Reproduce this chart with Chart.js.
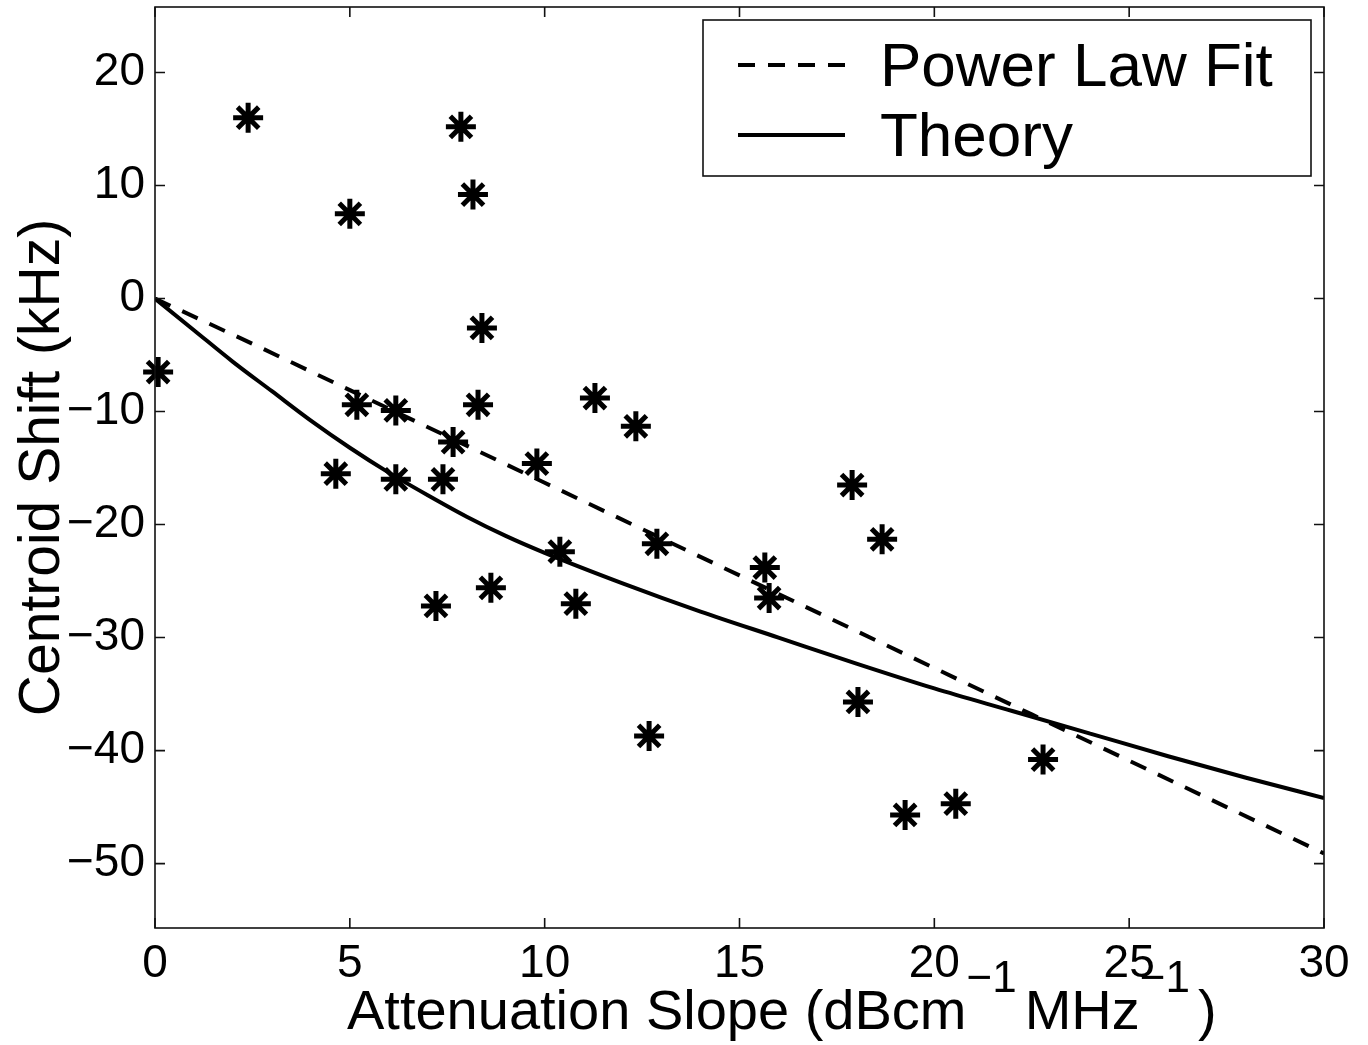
<!DOCTYPE html>
<html><head><meta charset="utf-8">
<script src="https://cdn.jsdelivr.net/npm/chart.js@4/dist/chart.umd.min.js"></script>
<style>html,body{margin:0;padding:0;background:#fff;} #wrap{width:1368px;height:1045px;}</style>
</head><body><div id="wrap"><canvas id="c" width="1368" height="1045"></canvas></div>
<script>
// ---- data ----
const xTicks = [0, 5, 10, 15, 20, 25, 30];
const yTicks = [-50, -40, -30, -20, -10, 0, 10, 20];
const xLimits = [0, 30];
const yLimits = [-55.7, 25.8];

const measX = [0.08, 2.39, 5.00, 7.85, 8.16, 8.39, 5.18, 6.18, 8.29, 7.65, 4.64, 6.18, 7.39, 9.80, 11.29,
               12.34, 10.39, 12.88, 7.21, 8.62, 10.80, 12.68, 15.65, 15.76, 17.89, 18.66, 18.04, 19.25, 20.55, 22.79];
const measY = [-6.5, 16.0, 7.5, 15.2, 9.2, -2.6, -9.4, -9.9, -9.4, -12.7, -15.5, -16.0, -16.0, -14.6, -8.8,
               -11.3, -22.4, -21.7, -27.2, -25.6, -27.0, -38.7, -23.8, -26.5, -16.5, -21.3, -35.7, -45.7, -44.7, -40.8];

const fitX = [0, 2.5, 5, 7.5, 10, 12.5, 15, 17.5, 20, 22.5, 25, 27.5, 30];
const fitY = [0, -4.0, -8.1, -12.2, -16.3, -20.4, -24.5, -28.6, -32.7, -36.8, -40.9, -45.0, -49.1];

const theoryX = [0, 1, 2, 3, 4, 5, 6, 7, 8, 9, 10, 12, 14, 16, 18, 20, 22, 24, 26, 28, 30];
const theoryY = [0, -2.8, -5.6, -8.2, -10.8, -13.2, -15.4, -17.4, -19.3, -21.0, -22.5, -25.2, -27.7, -30.0,
                 -32.3, -34.5, -36.5, -38.5, -40.5, -42.4, -44.2];

const seriesLabels = ['Measured', 'Power Law Fit', 'Theory'];
const xTitleParts = [['Attenuation Slope (dBcm', 0], ['\u22121', 1], ['MHz', 0], ['\u22121', 1], [')', 0]];
const yTitle = 'Centroid Shift (kHz)';

// ---- build ----
const FONT = '"Liberation Sans", Arial, Helvetica, sans-serif';
const zip = (xs, ys) => xs.map((x, i) => ({x: x, y: ys[i]}));
const noPad = s => { s.paddingTop = 0; s.paddingBottom = 0; s.paddingLeft = 0; s.paddingRight = 0; };

const framePlugin = {
  id: 'frame',
  afterDatasetsDraw(chart) {
    const ctx = chart.ctx, a = chart.chartArea;
    const sx = chart.scales.x, sy = chart.scales.y;
    ctx.save();
    ctx.strokeStyle = '#111';
    ctx.lineWidth = 1.6;
    ctx.strokeRect(a.left, a.top, a.right - a.left, a.bottom - a.top);
    const tl = 10;
    ctx.beginPath();
    xTicks.forEach(v => {
      const p = sx.getPixelForValue(v);
      ctx.moveTo(p, a.bottom); ctx.lineTo(p, a.bottom - tl);
      ctx.moveTo(p, a.top); ctx.lineTo(p, a.top + tl);
    });
    yTicks.forEach(v => {
      const p = sy.getPixelForValue(v);
      ctx.moveTo(a.left, p); ctx.lineTo(a.left + tl, p);
      ctx.moveTo(a.right, p); ctx.lineTo(a.right - tl, p);
    });
    ctx.stroke();
    ctx.restore();
  },
  afterDraw(chart) {
    const ctx = chart.ctx, a = chart.chartArea;
    ctx.save();
    ctx.fillStyle = '#000';
    // y title
    ctx.font = '57px ' + FONT;
    ctx.translate(59, (a.top + a.bottom) / 2);
    ctx.rotate(-Math.PI / 2);
    ctx.textAlign = 'center';
    ctx.textBaseline = 'alphabetic';
    ctx.fillText(yTitle, 0, 0);
    ctx.setTransform(1, 0, 0, 1, 0, 0);
    // x title with superscripts
    const mainF = '56px ' + FONT, supF = '44px ' + FONT;
    let x = 347;
    ctx.textAlign = 'left';
    xTitleParts.forEach(([t, s]) => {
      ctx.font = s ? supF : mainF;
      ctx.fillText(t, x, s ? 992 : 1029);
      x += ctx.measureText(t).width + (s ? 8 : 0);
    });
    // legend
    const bx = 703, by = 20, bw = 608, bh = 156;
    ctx.fillStyle = '#fff';
    ctx.fillRect(bx, by, bw, bh);
    ctx.strokeStyle = '#111';
    ctx.lineWidth = 1.6;
    ctx.strokeRect(bx, by, bw, bh);
    [1, 2].forEach((di, i) => {
      const ds = chart.data.datasets[di];
      const yy = 65 + i * 70;
      ctx.beginPath();
      ctx.strokeStyle = ds.borderColor;
      ctx.lineWidth = ds.borderWidth;
      ctx.setLineDash(ds.borderDash || []);
      ctx.moveTo(738, yy); ctx.lineTo(845, yy);
      ctx.stroke();
      ctx.setLineDash([]);
      ctx.fillStyle = '#000';
      ctx.font = '62px ' + FONT;
      ctx.textAlign = 'left';
      ctx.textBaseline = 'alphabetic';
      ctx.fillText(ds.label, 880, yy + 21);
    });
    ctx.restore();
  }
};

new Chart(document.getElementById('c'), {
  type: 'scatter',
  data: {
    datasets: [
      { label: seriesLabels[0], data: zip(measX, measY), showLine: false, pointStyle: 'star', clip: false,
        pointRadius: 15, pointHoverRadius: 15, pointBorderWidth: 5, borderColor: '#000', backgroundColor: '#000' },
      { label: seriesLabels[1], data: zip(fitX, fitY), showLine: true, borderColor: '#000', borderWidth: 4,
        borderDash: [17, 13], pointRadius: 0, fill: false, tension: 0 },
      { label: seriesLabels[2], data: zip(theoryX, theoryY), showLine: true, borderColor: '#000', borderWidth: 4,
        pointRadius: 0, fill: false, cubicInterpolationMode: 'monotone' }
    ]
  },
  options: {
    responsive: false,
    animation: false,
    devicePixelRatio: 1,
    layout: { autoPadding: false, padding: { top: 7, right: 44, left: 0, bottom: 0 } },
    plugins: { legend: { display: false }, tooltip: { enabled: false } },
    scales: {
      x: {
        type: 'linear', min: xLimits[0], max: xLimits[1],
        afterBuildTicks: s => { s.ticks = xTicks.map(v => ({value: v})); },
        afterFit: s => { s.height = 117; noPad(s); },
        grid: { display: false, drawTicks: false, tickLength: 0 }, border: { display: false },
        ticks: { color: '#000', font: { family: FONT, size: 46 }, padding: 9, maxRotation: 0, autoSkip: false }
      },
      y: {
        type: 'linear', min: yLimits[0], max: yLimits[1],
        afterBuildTicks: s => { s.ticks = yTicks.map(v => ({value: v})); },
        afterFit: s => { s.width = 155; noPad(s); },
        grid: { display: false, drawTicks: false, tickLength: 0 }, border: { display: false },
        ticks: { color: '#000', font: { family: FONT, size: 46 }, padding: 10, autoSkip: false,
                 callback: v => String(v).replace('-', '\u2212') }
      }
    }
  },
  plugins: [framePlugin]
});
</script></body></html>
